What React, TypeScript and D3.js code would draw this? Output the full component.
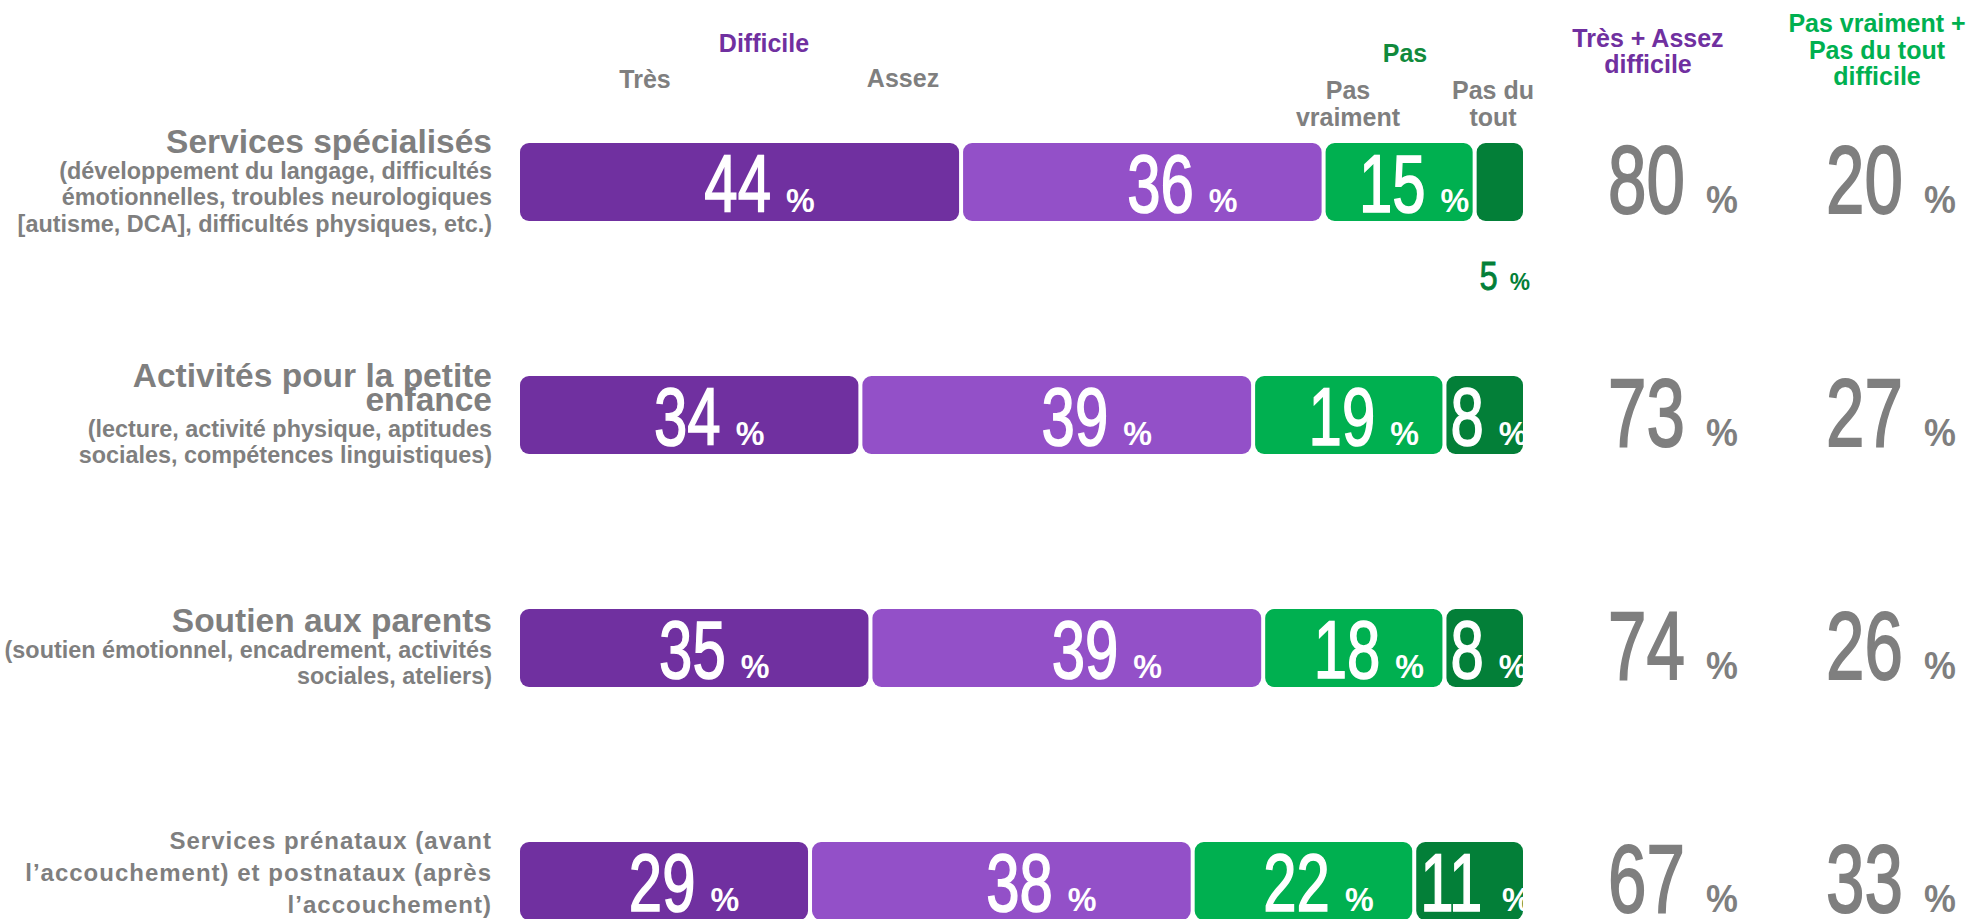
import React from "react";
import * as d3 from "d3";

const categories = ["specialises", "petiteEnfance", "parents", "prenataux"];
const titleLines = [
  ["Services spécialisés"],
  ["Activités  pour la petite", "enfance"],
  ["Soutien aux parents"],
  [],
];
const subLines = [
  ["(développement du langage, difficultés", "émotionnelles, troubles neurologiques", "[autisme, DCA], difficultés physiques, etc.)"],
  ["(lecture, activité physique, aptitudes", "sociales, compétences linguistiques)"],
  ["(soutien émotionnel, encadrement, activités", "sociales, ateliers)"],
  ["Services  prénataux (avant", "l’accouchement)  et postnataux (après", "l’accouchement)"],
];
const tres = [44, 34, 35, 29];
const assez = [36, 39, 39, 38];
const pasVraiment = [15, 19, 18, 22];
const pasDuTout = [5, 8, 8, 11];
const totalDifficile = [80, 73, 74, 67];
const totalPas = [20, 27, 26, 33];
const seriesNames = ["Très", "Assez", "Pas vraiment", "Pas du tout"];

const W = 1974;
const H = 919;
const SANS = "'Liberation Sans', Arial, sans-serif";
const GRAY = "#7F7F7F";
const PURPLE = "#7030A0";
const GREEN = "#00B050";
const colors = ["#7030A0", "#9350C8", "#00B050", "#037F38"];
const labelOffsets = [20, 40, 15, 0];

type NumProps = {
  x: number;
  y: number;
  value: number;
  fs: number;
  sx: number;
  pfs: number;
  psx: number;
  gap: number;
  fill: string;
  anchor?: "middle" | "start";
  clip?: string;
};

function NumLabel({ x, y, value, fs, sx, pfs, psx, gap, fill, anchor = "middle", clip }: NumProps) {
  const dw = String(value).length * 0.556 * fs * sx;
  const pw = 0.889 * pfs * psx;
  const total = dw + gap + pw;
  const start = anchor === "start" ? x : x - total / 2;
  return (
    <g clipPath={clip} fill={fill} fontFamily={SANS}>
      <text
        transform={`translate(${start},${y}) scale(${sx},1)`}
        fontSize={fs}
        stroke={fill}
        strokeWidth={fs * 0.02}
      >
        {value}
      </text>
      <text transform={`translate(${start + dw + gap},${y}) scale(${psx},1)`} fontSize={pfs} fontWeight="bold">
        %
      </text>
    </g>
  );
}

export default function App() {
  const x = d3.scaleLinear().domain([0, 100]).range([520, 1527]);
  const y = d3.scalePoint<string>().domain(categories).range([182, 881]);
  const barH = 78;
  const gap = 4;
  const series = [tres, assez, pasVraiment, pasDuTout];

  const rows = categories.map((c, i) => {
    const vals = series.map((s) => s[i]);
    let cum = 0;
    const segs = vals.map((v, k) => {
      const s = { k, v, x0: x(cum), x1: x(cum + v) - gap };
      cum += v;
      return s;
    });
    return { c, i, cy: y(c) as number, segs };
  });

  const labelBlocks = rows.map((r) => {
    const items: { t: string; kind: string }[] = [];
    titleLines[r.i].forEach((t) => items.push({ t, kind: "title" }));
    subLines[r.i].forEach((t) => items.push({ t, kind: r.i === 3 ? "note" : "sub" }));
    const ys: number[] = [];
    let yy = 0;
    items.forEach((it, j) => {
      if (j > 0) {
        const prev = items[j - 1].kind;
        if (prev === "title" && it.kind === "title") yy += 24;
        else if (prev === "title") yy += 26;
        else if (it.kind === "note") yy += 32;
        else yy += 26.5;
      }
      ys.push(yy);
    });
    const midOffset = titleLines[r.i].length > 0 ? 10 : 0;
    const mid = yy / 2;
    return items.map((it, j) => ({ ...it, y: r.cy + midOffset + ys[j] - mid }));
  });

  const col1 = 1673;
  const col2 = 1891;

  return (
    <svg width={W} height={H} style={{ position: "absolute", left: 0, top: 0, background: "#fff" }}>
      <defs>
        {rows.map((r) => (
          <clipPath id={`clip${r.i}`} key={r.i}>
            <rect x={r.segs[3].x0} y={r.cy - barH / 2} width={r.segs[3].x1 - r.segs[3].x0 + 3} height={barH} />
          </clipPath>
        ))}
      </defs>
      {/* headers */}
      <g fontFamily={SANS} fontWeight="bold" textAnchor="middle" fontSize={25}>
        <text x={764} y={52} fill={PURPLE}>Difficile</text>
        <text x={645} y={88} fill={GRAY}>{seriesNames[0]}</text>
        <text x={903} y={87} fill={GRAY}>{seriesNames[1]}</text>
        <text x={1405} y={62} fill="#118A3C">Pas</text>
        <text x={1348} y={99} fill={GRAY}>Pas</text>
        <text x={1348} y={126} fill={GRAY}>vraiment</text>
        <text x={1493} y={99} fill={GRAY}>Pas du</text>
        <text x={1493} y={126} fill={GRAY}>tout</text>
      </g>
      <g fontFamily={SANS} fontWeight="bold" textAnchor="middle" fontSize={25}>
        <text x={1648} y={47} fill={PURPLE}>Très + Assez</text>
        <text x={1648} y={73} fill={PURPLE}>difficile</text>
        <text x={1877} y={32} fill={GREEN}>Pas vraiment +</text>
        <text x={1877} y={59} fill={GREEN}>Pas du tout</text>
        <text x={1877} y={85} fill={GREEN}>difficile</text>
      </g>
      {/* row labels */}
      {labelBlocks.map((lines, i) => (
        <g key={i} fontFamily={SANS} fontWeight="bold" fill={GRAY} textAnchor="end">
          {lines.map((l, j) => (
            <text
              key={j}
              x={492}
              y={l.y}
              fontSize={l.kind === "title" ? 33.5 : l.kind === "note" ? 24 : 23.4}
              letterSpacing={l.kind === "note" ? 1 : 0}
            >
              {l.t}
            </text>
          ))}
        </g>
      ))}
      {/* bars */}
      {rows.map((r) => (
        <g key={r.c}>
          {r.segs.map((s) => (
            <rect
              key={s.k}
              x={s.x0}
              y={r.cy - barH / 2}
              width={Math.max(0, s.x1 - s.x0)}
              height={barH}
              rx={9}
              fill={colors[s.k]}
            />
          ))}
          {r.segs.map((s) => {
            if (s.k === 3) {
              if (s.v < 6) {
                return (
                  <NumLabel
                    key={s.k}
                    x={(s.x0 + s.x1) / 2 + 5}
                    y={r.cy + 108}
                    value={s.v}
                    fs={41}
                    sx={0.8}
                    pfs={24}
                    psx={0.95}
                    gap={12}
                    fill={colors[3]}
                  />
                );
              }
              return (
                <NumLabel
                  key={s.k}
                  x={s.x0 + 4}
                  y={r.cy + 30}
                  value={s.v}
                  fs={81}
                  sx={0.74}
                  pfs={34}
                  psx={0.95}
                  gap={15}
                  fill="#fff"
                  anchor="start"
                  clip={`url(#clip${r.i})`}
                />
              );
            }
            return (
              <NumLabel
                key={s.k}
                x={(s.x0 + s.x1) / 2 + labelOffsets[s.k]}
                y={r.cy + 30}
                value={s.v}
                fs={81}
                sx={0.74}
                pfs={34}
                psx={0.95}
                gap={15}
                fill="#fff"
              />
            );
          })}
          <NumLabel x={col1} y={r.cy + 30.5} value={totalDifficile[r.i]} fs={96} sx={0.72} pfs={39} psx={0.92} gap={21} fill={GRAY} />
          <NumLabel x={col2} y={r.cy + 30.5} value={totalPas[r.i]} fs={96} sx={0.72} pfs={39} psx={0.92} gap={21} fill={GRAY} />
        </g>
      ))}
    </svg>
  );
}
